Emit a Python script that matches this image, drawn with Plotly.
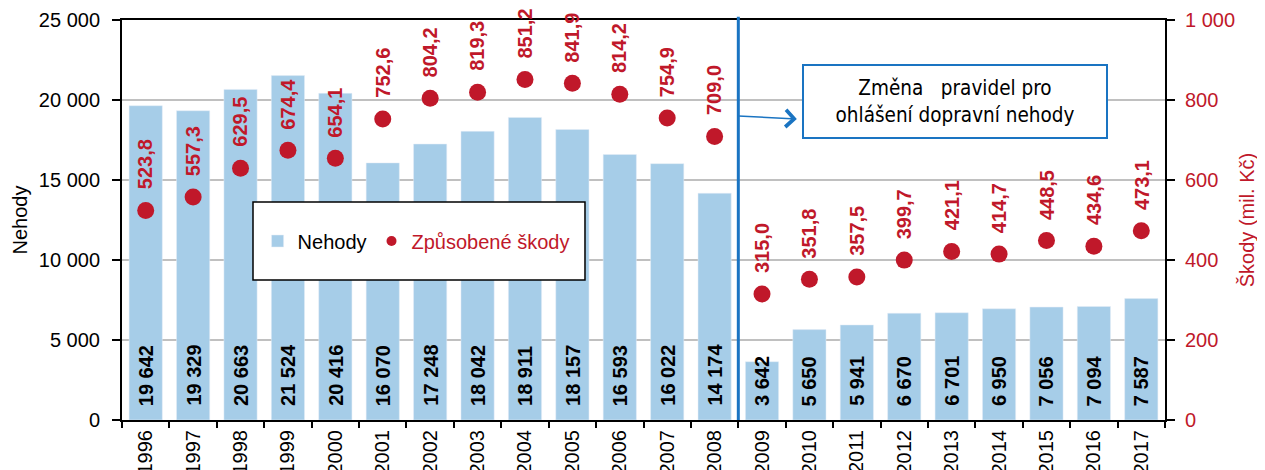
import plotly.graph_objects as go

years = ["1996", "1997", "1998", "1999", "2000", "2001", "2002", "2003",
         "2004", "2005", "2006", "2007", "2008", "2009", "2010", "2011",
         "2012", "2013", "2014", "2015", "2016", "2017"]
nehody = [19642, 19329, 20663, 21524, 20416, 16070, 17248, 18042,
          18911, 18157, 16593, 16022, 14174, 3642, 5650, 5941,
          6670, 6701, 6950, 7056, 7094, 7587]
skody = [523.8, 557.3, 629.5, 674.4, 654.1, 752.6, 804.2, 819.3,
         851.2, 841.9, 814.2, 754.9, 709.0, 315.0, 351.8, 357.5,
         399.7, 421.1, 414.7, 448.5, 434.6, 473.1]

BAR_BLUE = "#a6cde8"
RED = "#c0182a"
LINE_BLUE = "#1a74c2"
FONT = "Liberation Sans, Arial, sans-serif"


def cz_decimal(v):
    return f"{v:.1f}".replace(".", ",")


def cz_thousands(v):
    return f"{v:,}".replace(",", " ")


fig = go.Figure()
fig.add_trace(go.Bar(x=years, y=nehody, name="Nehody", marker_color=BAR_BLUE))
fig.add_trace(go.Scatter(x=years, y=skody, yaxis="y2", mode="markers",
                         marker=dict(size=17, color=RED), showlegend=False))
# legend-only entry with a smaller dot, as in the original
fig.add_trace(go.Scatter(x=[None], y=[None], yaxis="y2", mode="markers",
                         marker=dict(size=10, color=RED),
                         name=f"<span style='color:{RED}'>Způsobené škody</span>"))

# year strings look numeric, so annotations use the category index
annotations = []
for i, v in enumerate(nehody):
    annotations.append(dict(x=i, y=0, xref="x", yref="y", text=cz_thousands(v),
                            showarrow=False, textangle=-90, yanchor="bottom",
                            yshift=13, borderpad=0,
                            font=dict(family=FONT, size=20, color="black", weight=700)))
for i, v in enumerate(skody):
    annotations.append(dict(x=i, y=v, xref="x", yref="y2", text=cz_decimal(v),
                            showarrow=False, textangle=-90, yanchor="bottom",
                            yshift=20, borderpad=0,
                            font=dict(family=FONT, size=20, color=RED, weight=700)))

# note box and arrow from the rule-change line
annotations.append(dict(x=0.7987, y=0.796, xref="paper", yref="paper",
                        xanchor="center", yanchor="middle",
                        text="Změna\u00a0\u00a0\u00a0pravidel pro<br>ohlášení dopravní nehody",
                        showarrow=False, bgcolor="white", bordercolor=LINE_BLUE,
                        borderwidth=2, borderpad=1, width=300, height=69,
                        font=dict(family="Liberation Sans Narrow, DejaVu Sans Condensed, sans-serif",
                                  size=20.5, color="black")))
annotations.append(dict(x=0.647, y=0.7525, xref="paper", yref="paper", text="",
                        showarrow=True, ax=-60, ay=-3, arrowhead=4, arrowsize=2.2,
                        arrowwidth=1.5, arrowcolor=LINE_BLUE))

shapes = [
    dict(type="line", xref="x", yref="paper", x0=12.5, x1=12.5, y0=0, y1=1.008,
         line=dict(color=LINE_BLUE, width=3), layer="above"),
    dict(type="rect", xref="paper", yref="paper", x0=0.1256, x1=0.4439, y0=0.35, y1=0.545,
         line=dict(color="black", width=1.5), fillcolor="white", layer="above"),
]

# the page body adds an 8px margin, so the figure is 8px smaller on each side
fig.update_layout(
    width=1257, height=462,
    margin=dict(l=114, r=100, t=12, b=50, pad=0),
    plot_bgcolor="white", paper_bgcolor="white",
    separators=", ",
    font=dict(family=FONT, size=20, color="black"),
    bargap=0.3,
    showlegend=True,
    legend=dict(orientation="h", x=0.13, y=0.4475, xanchor="left", yanchor="middle",
                bgcolor="rgba(0,0,0,0)", font=dict(size=20), traceorder="normal"),
    xaxis=dict(type="category", categoryorder="array", categoryarray=years,
               range=[-0.5, len(years) - 0.5],
               showline=True, linecolor="black", linewidth=2, mirror=True,
               ticks="outside", tickson="boundaries", ticklen=6, tickwidth=2, tickcolor="black",
               tickangle=-90, tickfont=dict(size=20), showgrid=False, automargin=False),
    yaxis=dict(range=[0, 25000], dtick=5000, separatethousands=True, exponentformat="none",
               showgrid=True, gridcolor="#c0c0c0", gridwidth=2, zeroline=False,
               showline=True, linecolor="black", linewidth=2,
               ticks="outside", ticklen=8, tickwidth=2, tickcolor="black", ticklabelstandoff=8,
               title=dict(text="Nehody", standoff=6, font=dict(size=20)), automargin=False),
    yaxis2=dict(overlaying="y", side="right", range=[0, 1000], dtick=200, separatethousands=True,
                exponentformat="none",
                showgrid=False, zeroline=False, showline=True, linecolor="black", linewidth=2,
                ticks="outside", ticklen=8, tickwidth=2, tickcolor="black", ticklabelstandoff=6,
                tickfont=dict(color=RED, size=20),
                title=dict(text="Škody (mil. Kč)", standoff=6, font=dict(color=RED, size=20)),
                automargin=False),
    annotations=annotations,
    shapes=shapes,
)

fig.write_html("out.html")
